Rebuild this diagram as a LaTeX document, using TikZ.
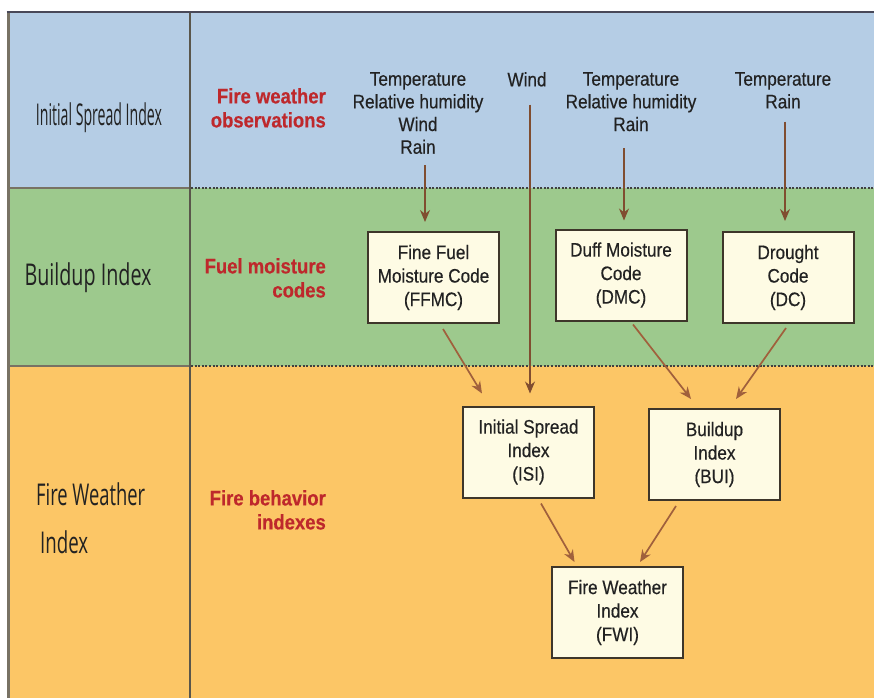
\documentclass[tikz,border=0pt]{standalone}
\usepackage{fontspec}
\usepackage{graphicx}
\setmainfont[FakeStretch=0.88,FakeBold=0.4]{Liberation Sans}
\newfontfamily\leftfont{Open Sans}
\usetikzlibrary{arrows.meta}
\definecolor{bandblue}{RGB}{181,205,229}
\definecolor{bandgreen}{RGB}{157,201,141}
\definecolor{bandorange}{RGB}{252,198,102}
\definecolor{boxfill}{RGB}{254,251,228}
\definecolor{boxline}{RGB}{62,54,42}
\definecolor{arrowbrown}{RGB}{160,96,60}
\definecolor{labelred}{RGB}{190,40,44}
\definecolor{txt}{RGB}{34,34,34}
\definecolor{frameline}{RGB}{120,114,100}
\definecolor{topline}{RGB}{72,72,88}
\begin{document}
\begin{tikzpicture}[x=1pt,y=-1pt,
  codebox/.style={draw=boxline, line width=2pt, fill=boxfill, minimum width=131pt,
    minimum height=91pt, inner sep=0pt, align=center, text=txt,
    font=\fontsize{19.5}{23.5}\selectfont},
  obs/.style={inner sep=0pt, align=center, anchor=north, text=txt,
    font=\fontsize{19.5}{22.7}\selectfont},
  redlab/.style={inner sep=0pt, align=right, anchor=north east, text=labelred,
    font=\fontsize{21}{24}\selectfont\bfseries},
  sidelab/.style={inner sep=0pt, text=txt},
  arr/.style={draw=arrowbrown, line width=1.7pt, -{Stealth[length=12pt,width=10pt]}},
  thinarr/.style={draw=arrowbrown!80!black, line width=1.1pt, -{Stealth[length=12pt,width=10pt]}},
  dotline/.style={draw=black!75, line width=1.6pt, dash pattern=on 2pt off 1.6pt},
  sepline/.style={draw=frameline, line width=2.5pt}
]
\useasboundingbox (0,0) rectangle (874,698);
\fill[white] (0,0) rectangle (874,698);
% bands
\fill[bandblue] (8,12) rectangle (874,188);
\fill[bandgreen] (8,188) rectangle (874,366);
\fill[bandorange] (8,366) rectangle (874,698);
% frame lines
\draw[sepline] (8,188) -- (190,188);
\draw[sepline] (8,366) -- (190,366);
\draw[dotline] (191,188) -- (874,188);
\draw[dotline] (191,366) -- (874,366);
\draw[draw=frameline, line width=3pt] (8,12) -- (8,698);
\draw[draw=frameline!75!black, line width=2pt] (190,12) -- (190,698);
\draw[draw=topline, line width=2.5pt] (6.5,12) -- (874,12);

% left column labels
\node[sidelab, anchor=base] (lisi) at (99,125)
  {\resizebox{126pt}{\height}{\leftfont\fontsize{30}{30}\selectfont Initial Spread Index}};
\node[sidelab, anchor=base] (lbui) at (88,285)
  {\resizebox{127pt}{\height}{\leftfont\fontsize{30}{30}\selectfont Buildup Index}};
\node[sidelab, anchor=base west] (lfwi1) at (36,505)
  {\resizebox{109pt}{\height}{\leftfont\fontsize{30}{30}\selectfont Fire Weather}};
\node[sidelab, anchor=base west] (lfwi2) at (40,553)
  {\resizebox{48pt}{\height}{\leftfont\fontsize{30}{30}\selectfont Index}};

% red row labels
\node[redlab] (robs) at (326,88) {Fire weather\\observations};
\node[redlab] (rfuel) at (326,258) {Fuel moisture\\codes};
\node[redlab] (rbeh) at (326,490) {Fire behavior\\indexes};

% observations
\node[obs] (obs1) at (418,72) {Temperature\\Relative humidity\\Wind\\Rain};
\node[obs] (wind) at (527,72) {Wind};
\node[obs] (obs3) at (631,72) {Temperature\\Relative humidity\\Rain};
\node[obs] (obs4) at (783,72) {Temperature\\Rain};

% code boxes
\node[codebox] (ffmc) at (433.5,277.5) {Fine Fuel\\Moisture Code\\(FFMC)};
\node[codebox] (dmc) at (621,275) {Duff Moisture\\Code\\(DMC)};
\node[codebox] (dc) at (788,277.5) {Drought\\Code\\(DC)};
\node[codebox] (isi) at (528.5,452) {Initial Spread\\Index\\(ISI)};
\node[codebox] (bui) at (714.5,454.5) {Buildup\\Index\\(BUI)};
\node[codebox] (fwi) at (617.5,612.5) {Fire Weather\\Index\\(FWI)};

% arrows from observations
\draw[thinarr] ([xshift=7pt,yshift=-11pt]obs1.south) -- ([xshift=-8.5pt,yshift=9pt]ffmc.north);
\draw[thinarr] ([xshift=3pt,yshift=-18pt]wind.south) -- ([xshift=1.5pt,yshift=12pt]isi.north);
\draw[thinarr] ([xshift=-7pt,yshift=-17pt]obs3.south) -- ([xshift=3pt,yshift=8pt]dmc.north);
\draw[thinarr] ([xshift=2pt,yshift=-13pt]obs4.south) -- ([xshift=-3pt,yshift=10pt]dc.north);

% arrows between codes
\draw[arr] ([xshift=9.5pt,yshift=-5pt]ffmc.south) -- ([xshift=-46.5pt,yshift=12pt]isi.north);
\draw[arr] ([xshift=12pt,yshift=-3pt]dmc.south) -- ([xshift=-23.5pt,yshift=9pt]bui.north);
\draw[arr] ([xshift=-2pt,yshift=-4pt]dc.south) -- ([xshift=21.5pt,yshift=9pt]bui.north);
\draw[arr] ([xshift=12.5pt,yshift=-5pt]isi.south) -- ([xshift=-43pt,yshift=4pt]fwi.north);
\draw[arr] ([xshift=-38.5pt,yshift=-5pt]bui.south) -- ([xshift=22.5pt,yshift=4pt]fwi.north);
\end{tikzpicture}
\end{document}
